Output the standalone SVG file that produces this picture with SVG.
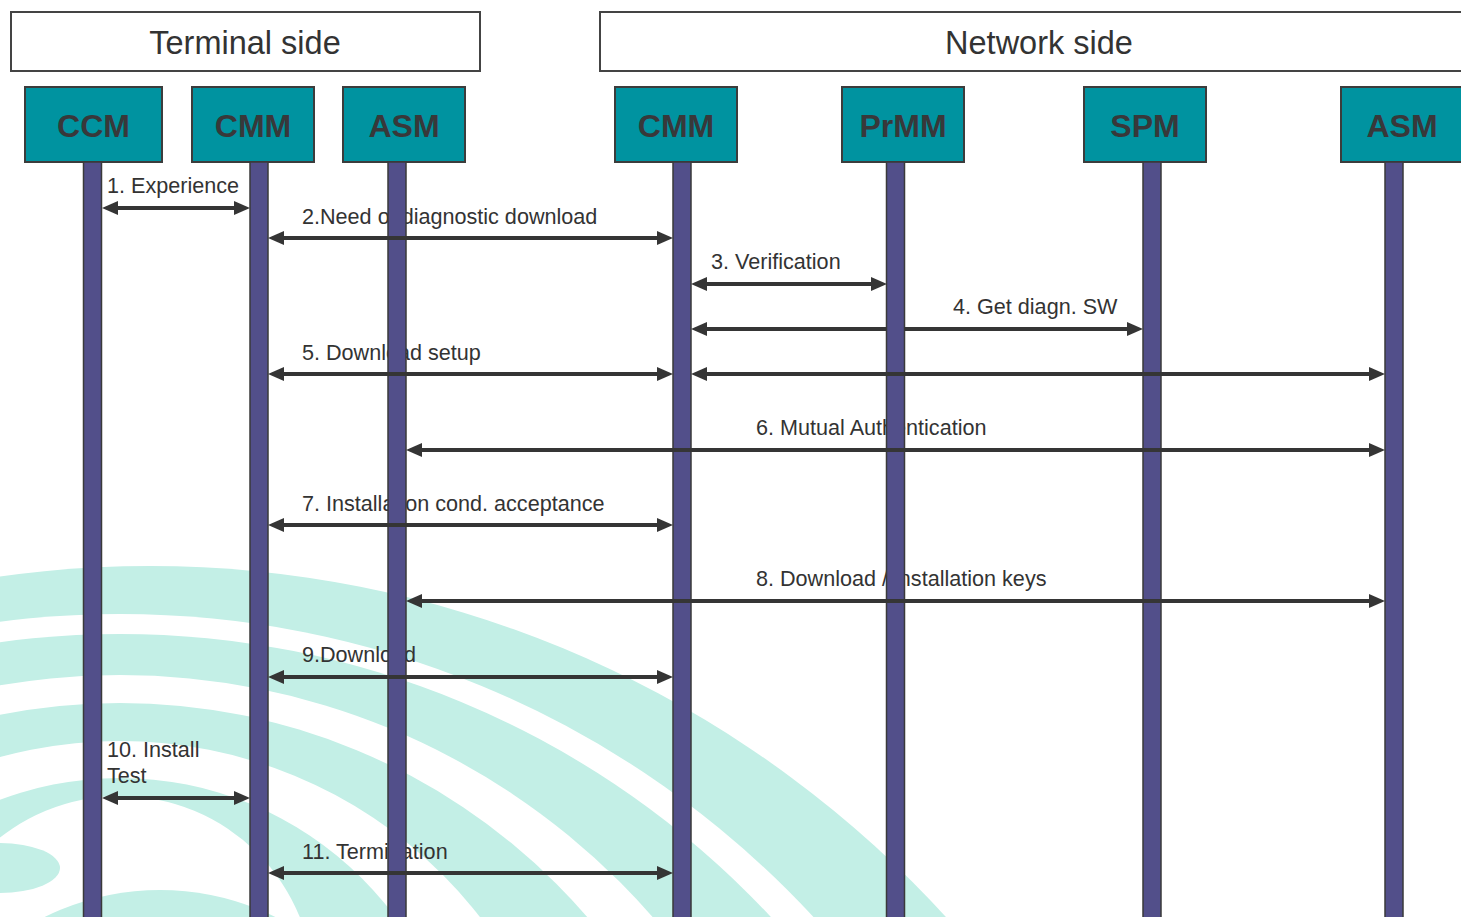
<svg xmlns="http://www.w3.org/2000/svg" width="1461" height="917" viewBox="0 0 1461 917">
  <defs>
    <style>
      .mint { fill: #c3efe6; }
      .gap { fill: #ffffff; }
      .hdr { fill: #ffffff; stroke: #444444; stroke-width: 2; }
      .hdrtxt { font-family: "Liberation Sans", Arial, sans-serif; font-size: 32.5px; fill: #333333; text-anchor: middle; }
      .node { fill: #0093a0; stroke: #3c3c3c; stroke-width: 2; }
      .nodetxt { font-family: "Liberation Sans", Arial, sans-serif; font-size: 32px; font-weight: bold; fill: #38383a; text-anchor: middle; }
      .life { fill: #524f8a; stroke: #3a3a3a; stroke-width: 1.5; }
      .lbl { font-family: "Liberation Sans", Arial, sans-serif; font-size: 21.6px; fill: #333333; }
      .msg { stroke: #353535; stroke-width: 4; fill: none; }
      .both { marker-start: url(#ah); marker-end: url(#ah); }
      .one { marker-end: url(#ah); }
    </style>
    <marker id="ah" viewBox="0 0 16 14" refX="8" refY="7" markerWidth="16" markerHeight="14" markerUnits="userSpaceOnUse" orient="auto-start-reverse">
      <path d="M0,0 L16,7 L0,14 z" fill="#353535"/>
    </marker>
  </defs>

  <rect x="0" y="0" width="1461" height="917" fill="#ffffff"/>

  <g id="watermark">
    <circle class="mint" cx="150" cy="1644" r="1078"/>
    <circle class="gap" cx="120" cy="1559" r="945"/>
    <circle class="mint" cx="120" cy="1524" r="890"/>
    <circle class="gap" cx="120" cy="1382" r="707"/>
    <circle class="mint" cx="120" cy="1320" r="617"/>
    <circle class="gap" cx="120" cy="1197" r="456"/>
    <circle class="mint" cx="120" cy="1120" r="342"/>
    <circle class="gap" cx="120" cy="990" r="194"/>
    <ellipse class="mint" cx="0" cy="868" rx="60" ry="25"/>
    <circle class="mint" cx="160" cy="1150" r="260"/>
  </g>

  <g id="terminal-side">
    <rect class="hdr" x="11" y="12" width="469" height="59"/>
    <text class="hdrtxt" x="245" y="54">Terminal side</text>
  </g>
  <g id="network-side">
    <rect class="hdr" x="600" y="12" width="878" height="59"/>
    <text class="hdrtxt" x="1039" y="54">Network side</text>
  </g>

  <g id="labels">
    <text class="lbl" x="107" y="193">1. Experience</text>
    <text class="lbl" x="302" y="224">2.Need of diagnostic download</text>
    <text class="lbl" x="711" y="269">3. Verification</text>
    <text class="lbl" x="953" y="314">4. Get diagn. SW</text>
    <text class="lbl" x="302" y="360">5. Download setup</text>
    <text class="lbl" x="756" y="435">6. Mutual Authentication</text>
    <text class="lbl" x="302" y="511">7. Installation cond. acceptance</text>
    <text class="lbl" x="756" y="586">8. Download / installation keys</text>
    <text class="lbl" x="302" y="662">9.Download</text>
    <text class="lbl" x="107" y="757">10. Install</text>
    <text class="lbl" x="107" y="783">Test</text>
    <text class="lbl" x="302" y="859">11. Termination</text>
  </g>

  <g id="node-ccm">
    <rect class="node" x="25" y="87" width="137" height="75"/>
    <text class="nodetxt" x="93.5" y="137">CCM</text>
    <rect class="life" x="83.5" y="162" width="18" height="760"/>
  </g>
  <g id="node-cmm-terminal">
    <rect class="node" x="192" y="87" width="122" height="75"/>
    <text class="nodetxt" x="253" y="137">CMM</text>
    <rect class="life" x="250" y="162" width="18" height="760"/>
  </g>
  <g id="node-asm-terminal">
    <rect class="node" x="343" y="87" width="122" height="75"/>
    <text class="nodetxt" x="404" y="137">ASM</text>
    <rect class="life" x="388" y="162" width="18" height="760"/>
  </g>
  <g id="node-cmm-network">
    <rect class="node" x="615" y="87" width="122" height="75"/>
    <text class="nodetxt" x="676" y="137">CMM</text>
    <rect class="life" x="673" y="162" width="18" height="760"/>
  </g>
  <g id="node-prmm">
    <rect class="node" x="842" y="87" width="122" height="75"/>
    <text class="nodetxt" x="903" y="137">PrMM</text>
    <rect class="life" x="886.5" y="162" width="18" height="760"/>
  </g>
  <g id="node-spm">
    <rect class="node" x="1084" y="87" width="122" height="75"/>
    <text class="nodetxt" x="1145" y="137">SPM</text>
    <rect class="life" x="1143" y="162" width="18" height="760"/>
  </g>
  <g id="node-asm-network">
    <rect class="node" x="1341" y="87" width="130" height="75"/>
    <text class="nodetxt" x="1402" y="137">ASM</text>
    <rect class="life" x="1385" y="162" width="18" height="760"/>
  </g>

  <g id="connectors">
    <line class="msg both" x1="110" y1="208" x2="242" y2="208"/>
    <line class="msg both" x1="276" y1="238" x2="665" y2="238"/>
    <line class="msg both" x1="699" y1="284" x2="879" y2="284"/>
    <line class="msg one" x1="886.5" y1="329" x2="699" y2="329"/>
    <line class="msg one" x1="904.5" y1="329" x2="1135" y2="329"/>
    <line class="msg both" x1="276" y1="374" x2="665" y2="374"/>
    <line class="msg both" x1="699" y1="374" x2="1377" y2="374"/>
    <line class="msg both" x1="414" y1="450" x2="1377" y2="450"/>
    <line class="msg both" x1="276" y1="525" x2="665" y2="525"/>
    <line class="msg both" x1="414" y1="601" x2="1377" y2="601"/>
    <line class="msg both" x1="276" y1="677" x2="665" y2="677"/>
    <line class="msg both" x1="110" y1="798" x2="242" y2="798"/>
    <line class="msg both" x1="276" y1="873" x2="665" y2="873"/>
  </g>
</svg>
